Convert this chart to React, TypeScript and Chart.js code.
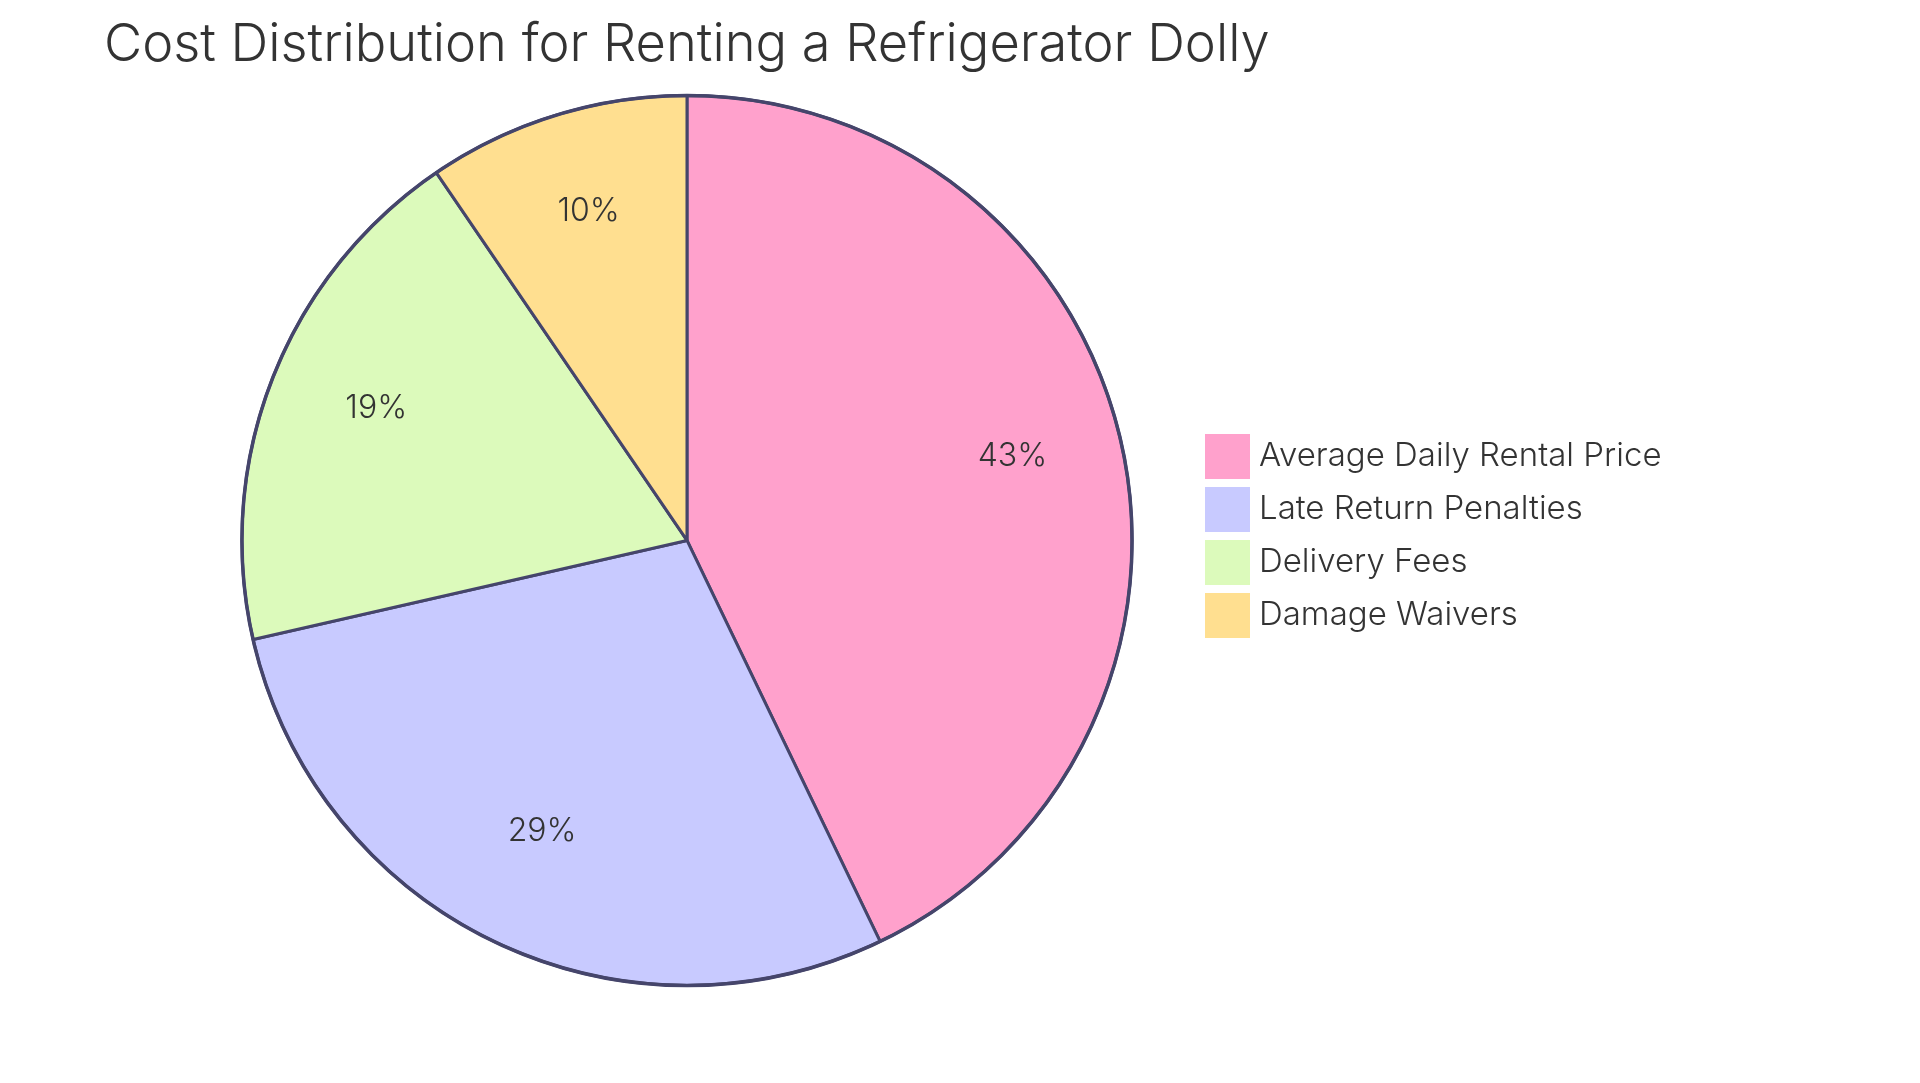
import React, { useEffect, useRef } from "react";
import { Chart, registerables } from "chart.js";

Chart.register(...registerables);

const categories = ["Average Daily Rental Price", "Late Return Penalties", "Delivery Fees", "Damage Waivers"];
const values = [45, 30, 20, 10];
const percentLabels = ["43%", "29%", "19%", "10%"];
const colors = ["#FFA1CC", "#C8CAFF", "#DCFABB", "#FFDF90"];
const titleText = "Cost Distribution for Renting a Refrigerator Dolly";

const FONT = "Inter, 'Noto Sans', sans-serif";
const INK = "#333333";
const LINE = "#45456B";

const sliceLabels = {
  id: "sliceLabels",
  afterLayout(chart: any) {
    // Title and legend sit at fixed places, independent of the pie's area.
    chart.titleBlock.left = 104;
    chart.legend.left = 1192.5;
    chart.legend.right = 1920;
    chart.legend.top = 420;
    chart.legend.bottom = 1083;
  },
  afterDatasetsDraw(chart: any) {
    const ctx = chart.ctx;
    const arcs = chart.getDatasetMeta(0).data;
    ctx.save();
    ctx.strokeStyle = LINE;
    ctx.lineWidth = 3.5;
    ctx.beginPath();
    ctx.arc(arcs[0].x, arcs[0].y, arcs[0].outerRadius, 0, Math.PI * 2);
    ctx.stroke();
    ctx.fillStyle = INK;
    ctx.font = `300 32px ${FONT}`;
    ctx.textAlign = "center";
    ctx.textBaseline = "middle";
    arcs.forEach((arc: any, i: number) => {
      const mid = (arc.startAngle + arc.endAngle) / 2;
      const r = arc.outerRadius * 0.75;
      ctx.fillText(percentLabels[i], arc.x + Math.cos(mid) * r, arc.y + Math.sin(mid) * r - 10);
    });
    ctx.restore();
  },
};

export default function App() {
  const ref = useRef<HTMLCanvasElement>(null);
  useEffect(() => {
    document.body.style.margin = "0";
    const chart = new Chart(ref.current!, {
      type: "pie",
      data: {
        labels: categories,
        datasets: [
          {
            data: values,
            backgroundColor: colors,
            borderColor: LINE,
            borderWidth: 3,
            borderAlign: "center",
          },
        ],
      },
      options: {
        responsive: false,
        animation: false,
        devicePixelRatio: 1,
        layout: { padding: { left: 169, right: 236, top: 0, bottom: 96 } },
        plugins: {
          tooltip: { enabled: false },
          title: {
            display: true,
            text: titleText,
            align: "start",
            color: INK,
            font: { family: FONT, size: 52.4, weight: 300 },
            padding: { top: 14, bottom: 17 },
          },
          legend: {
            position: "right",
            align: "start",
            labels: {
              boxWidth: 30,
              boxHeight: 30,
              padding: 20,
              color: INK,
              font: { family: FONT, size: 33, weight: 300 },
              generateLabels: () =>
                categories.map((text, i) => ({
                  text,
                  fillStyle: colors[i],
                  strokeStyle: colors[i],
                  lineWidth: 15,
                  index: i,
                  fontColor: INK,
                })),
            },
          },
        },
      } as any,
      plugins: [sliceLabels],
    });
    return () => chart.destroy();
  }, []);
  return <canvas ref={ref} width={1920} height={1083} style={{ display: "block", width: 1920, height: 1083 }} />;
}
